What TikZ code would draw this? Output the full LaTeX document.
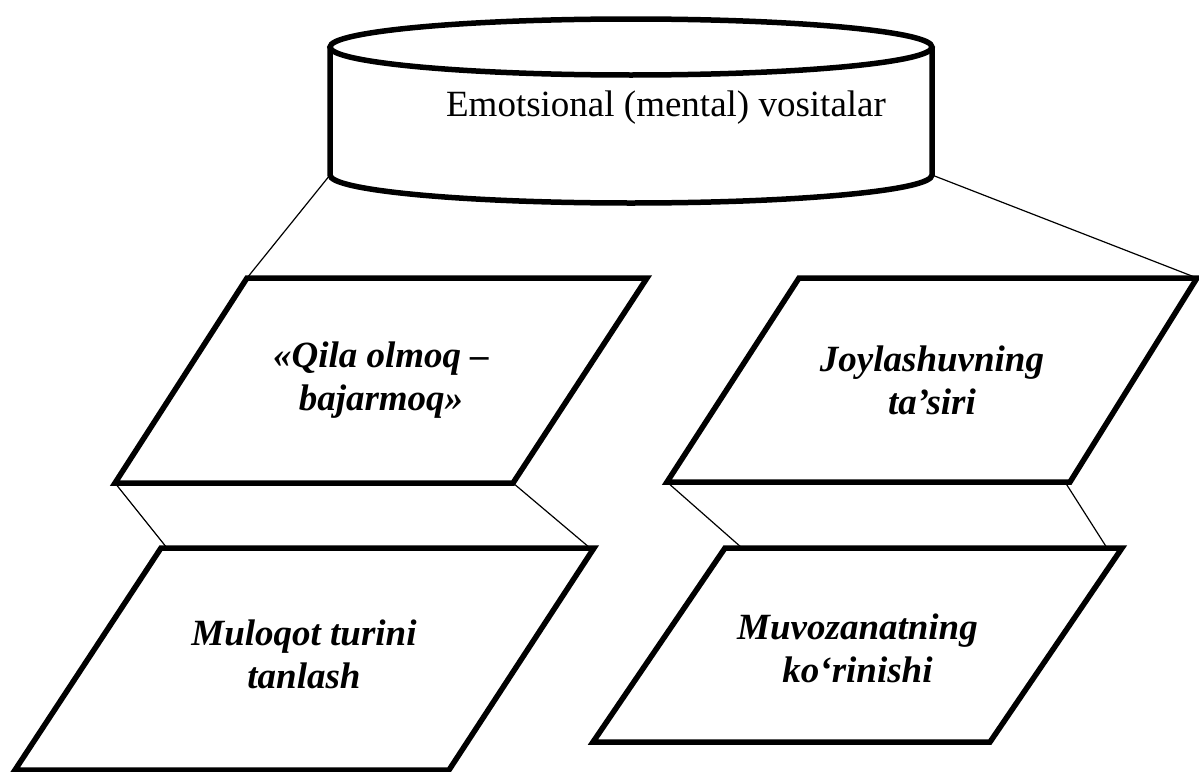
\documentclass[tikz,border=0pt]{standalone}
\usepackage{fontspec}
\setmainfont{Liberation Serif}[BoldItalicFont={Liberation Serif Bold Italic}]
\tikzset{
  box/.style={line width=5.5pt, line join=miter},
  boxtext/.style={align=center, inner sep=0pt, font=\fontsize{37}{43}\selectfont\bfseries\itshape},
  link/.style={line width=1.2pt}
}
\begin{document}
\begin{tikzpicture}[x=1pt,y=-1pt]
\useasboundingbox (0,0) rectangle (1199,771);
\draw[box] (330,47) -- (330,175) coordinate (cylleft) arc[start angle=180, end angle=0, x radius=301, y radius=28] coordinate (cylright) -- (932,47);
\draw[box] (631,47) ellipse [x radius=301, y radius=28];
\node[font=\fontsize{37}{43}\selectfont] (vosita) at (666,108) {Emotsional (mental) vositalar};
\draw[box] (247,278) coordinate (qila-tl) -- (647,278) coordinate (qila-tr) -- (513,483) coordinate (qila-br) -- (115,483) coordinate (qila-bl) -- cycle;
\draw[box] (161,548) coordinate (mul-tl) -- (594,548) coordinate (mul-tr) -- (449,770) coordinate (mul-br) -- (15,770) coordinate (mul-bl) -- cycle;
\draw[box] (799,278) coordinate (joy-tl) -- (1197,278) coordinate (joy-tr) -- (1070,482) coordinate (joy-br) -- (667,482) coordinate (joy-bl) -- cycle;
\draw[box] (725,548) coordinate (muv-tl) -- (1122,548) coordinate (muv-tr) -- (990,742) coordinate (muv-br) -- (593,742) coordinate (muv-bl) -- cycle;
\node[boxtext] (qila) at (381,380) {«Qila olmoq –\\bajarmoq»};
\node[boxtext] (muloqot) at (304,654) {Muloqot turini\\tanlash};
\node[boxtext] (joy) at (932,380) {Joylashuvning\\ta’siri};
\node[boxtext] (muvoz) at (857.5,648) {Muvozanatning\\ko‘rinishi};
\draw[link] (cylleft) -- (qila-tl);
\draw[link] (cylright) -- (joy-tr);
\draw[link] (qila-bl) -- ([xshift=6pt]mul-tl);
\draw[link] (qila-br) -- ([xshift=-4pt]mul-tr);
\draw[link] (joy-bl) -- ([xshift=17pt]muv-tl);
\draw[link] ([xshift=-5pt]joy-br) -- ([xshift=-15pt]muv-tr);
\end{tikzpicture}
\end{document}
